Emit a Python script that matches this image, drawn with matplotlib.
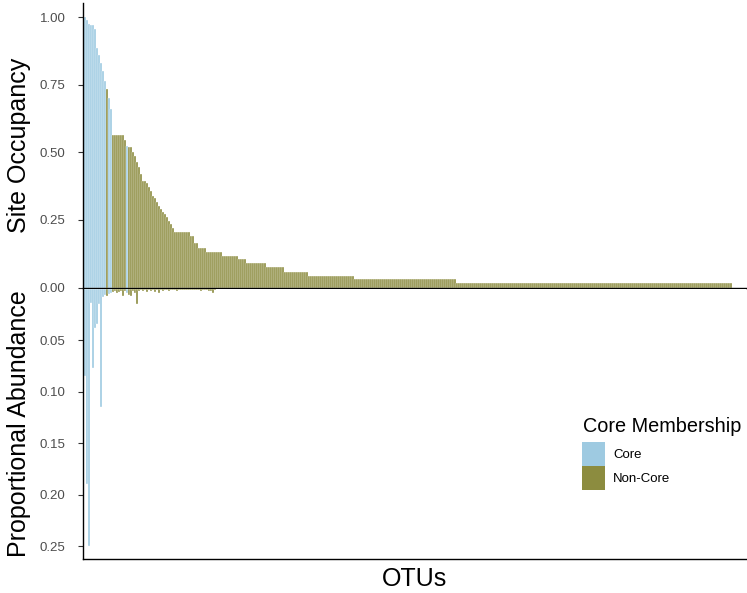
#!/usr/bin/env python

import matplotlib
matplotlib.use('Agg')
import matplotlib.pyplot as plt
from matplotlib.patches import Patch
import numpy as np

plt.rcParams['font.family'] = ['Liberation Sans', 'DejaVu Sans']

occ_levels = [1.00, 0.99, 0.975, 0.97, 0.97, 0.955, 0.885, 0.86, 0.83, 0.80,
              0.765, 0.735, 0.70, 0.66,
              0.563, 0.545, 0.525, 0.52, 0.50, 0.485, 0.465, 0.445, 0.42, 0.395,
              0.385, 0.37, 0.355, 0.34, 0.33, 0.315, 0.30, 0.29, 0.28, 0.27,
              0.26, 0.245, 0.235, 0.22,
              0.205, 0.19, 0.163, 0.145, 0.130, 0.118, 0.104, 0.089, 0.074,
              0.059, 0.044, 0.030, 0.015]
occ_counts = [1] * 14 + [6, 1, 1, 2, 1, 1, 1, 1, 1, 2] + [1] * 14 + \
             [8, 2, 2, 4, 8, 8, 4, 10, 9, 12, 23, 51, 138]

# OTUs (by rank) that belong to the core
core_idx = [0, 1, 2, 3, 4, 5, 6, 7, 8, 9, 10, 12, 13, 21]

# mean proportional abundance of the first OTUs, the rest are near zero
abund_head = [0.085, 0.19, 0.25, 0.014, 0.077, 0.038, 0.034, 0.015, 0.115, 0.008,
              0.006, 0.007, 0.005, 0.004, 0.003, 0.002, 0.004, 0.003, 0.002, 0.007,
              0.002, 0.004, 0.006, 0.007, 0.002, 0.004, 0.015, 0.002, 0.001, 0.002,
              0.001, 0.003, 0.001, 0.002, 0.001, 0.003, 0.001, 0.004, 0.001, 0.002,
              0.001, 0.001, 0.002, 0.001, 0.001, 0.001, 0.002, 0.001, 0.001, 0.001,
              0.001, 0.001, 0.001, 0.001, 0.001, 0.001, 0.001, 0.001, 0.002, 0.001,
              0.001, 0.001, 0.002, 0.002, 0.004, 0.001]
abund_tail = 0.0004

core_col = '#9ecae1'
noncore_col = '#8c8c3f'


def main():
    occ = np.repeat(occ_levels, occ_counts)
    n = len(occ)
    abund = np.concatenate([abund_head, np.full(n - len(abund_head), abund_tail)])
    x = np.arange(n)
    is_core = np.zeros(n, dtype=bool)
    is_core[core_idx] = True
    cols = np.where(is_core, core_col, noncore_col)

    fig = plt.figure(figsize=(7.47, 5.93), dpi=100)
    left, width = 83 / 747, 662.5 / 747
    ax1 = fig.add_axes([left, 1 - 287.5 / 593, width, 284.5 / 593])
    ax2 = fig.add_axes([left, 1 - 559 / 593, width, 270.5 / 593])

    # thin white outlines give the striped look of the original
    ax1.bar(x, occ, width=0.9, color=cols, edgecolor='white', linewidth=0.25)
    ax2.bar(x, abund, width=0.9, color=cols, edgecolor='white', linewidth=0.25)

    for ax in (ax1, ax2):
        ax.set_xlim(-1, 330.25)
        ax.set_xticks([])
        for s in ('top', 'right'):
            ax.spines[s].set_visible(False)
        ax.spines['left'].set_linewidth(1.0)
        ax.spines['bottom'].set_linewidth(1.0)
        ax.tick_params(axis='y', labelsize=9.5, labelcolor='#4d4d4d',
                       color='#333333', length=3.6, width=0.8, pad=9)

    ax1.set_ylim(0, 1.052)
    ax1.set_yticks([0, 0.25, 0.5, 0.75, 1.0])
    ax1.set_yticklabels(['0.00', '0.25', '0.50', '0.75', '1.00'])
    ax1.set_ylabel('Site Occupancy', fontsize=18, labelpad=6)

    ax2.set_ylim(0.2626, 0)
    ax2.set_yticks([0.05, 0.10, 0.15, 0.20, 0.25])
    ax2.set_yticklabels(['0.05', '0.10', '0.15', '0.20', '0.25'])
    ax2.set_ylabel('Proportional Abundance', fontsize=18, labelpad=6)
    ax2.set_xlabel('OTUs', fontsize=18, labelpad=6)

    handles = [Patch(facecolor=core_col, edgecolor='none', label='Core'),
               Patch(facecolor=noncore_col, edgecolor='none', label='Non-Core')]
    fig.legend(handles=handles, loc='upper left',
               bbox_to_anchor=(582 / 747, 1 - 442 / 593), frameon=False,
               fontsize=9.5, handlelength=1.75,
               handleheight=2.45, labelspacing=0.0, handletextpad=0.6,
               borderpad=0, borderaxespad=0)
    fig.text(583 / 747, 1 - 426 / 593, 'Core Membership', fontsize=14.3,
             ha='left', va='center')

    fig.savefig('out.png', dpi=100)


if __name__ == '__main__':
    main()
